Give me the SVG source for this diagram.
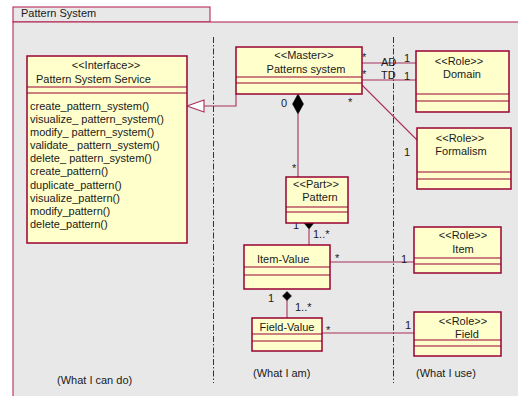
<svg xmlns="http://www.w3.org/2000/svg" width="518" height="396" viewBox="0 0 518 396">
<style>
text{font-family:"Liberation Sans",Arial,sans-serif;font-size:11px;fill:#1a1a1a}
.c{text-anchor:middle}
.box{fill:#ffffcc;stroke:#990033;stroke-width:1.5}
.sep{stroke:#990033;stroke-width:1.2}
.ln{fill:none;stroke:#a8305c;stroke-width:1.1}
.div{stroke:#333;stroke-width:1;stroke-dasharray:6 2 1.5 2}
.dia{fill:#000;stroke:#000;stroke-width:0.5}
</style>
<rect x="0" y="0" width="518" height="396" fill="#fff"/>
<g id="package">
<rect x="13" y="7" width="197" height="15" fill="#e8e8e8" stroke="#b01848" stroke-width="1"/>
<rect x="13" y="22" width="510" height="380" fill="#e8e8e8" stroke="#b01848" stroke-width="1"/>
<text x="21" y="17">Pattern System</text>
</g>
<g id="dividers">
<line class="div" x1="213.5" y1="37" x2="213.5" y2="383"/>
<line class="div" x1="393.5" y1="37" x2="393.5" y2="383"/>
</g>
<g id="connectors">
<polyline class="ln" points="204,106 236,106 236,94"/>
<polygon points="187,106 204,100 204,112" fill="#fff" stroke="#a8305c" stroke-width="1.1"/>
<line class="ln" x1="362" y1="63" x2="416" y2="63"/>
<line class="ln" x1="362" y1="80" x2="416" y2="80"/>
<line class="ln" x1="362" y1="85" x2="417" y2="140"/>
<line class="ln" x1="298" y1="114" x2="298" y2="177"/>
<polygon class="dia" points="298,94 303.5,104 298,114 292.5,104"/>
<line class="ln" x1="309" y1="229" x2="309" y2="245"/>
<polygon class="dia" points="309,217 314,223 309,229 304,223"/>
<line class="ln" x1="330" y1="262" x2="414" y2="262"/>
<line class="ln" x1="287" y1="300" x2="287" y2="318"/>
<polygon class="dia" points="287,291.5 291.5,296 287,300.5 282.5,296"/>
<line class="ln" x1="322" y1="333" x2="414" y2="333"/>
<text x="362" y="61">*</text>
<text x="381" y="66">AD</text>
<text x="404" y="62">1</text>
<text x="362" y="78">*</text>
<text x="381" y="79">TD</text>
<text x="404" y="80">1</text>
<text x="348" y="106">*</text>
<text x="404" y="156">1</text>
<text class="c" x="284" y="107">0</text>
<text x="292" y="172">*</text>
<text x="293" y="229">1</text>
<text x="313" y="238">1..*</text>
<text x="335" y="262">*</text>
<text x="401" y="263">1</text>
<text x="268" y="302">1</text>
<text x="295" y="311">1..*</text>
<text x="326" y="334">*</text>
<text x="405" y="329">1</text>
</g>
<g id="interface">
<rect class="box" x="27" y="56" width="160" height="187"/>
<line class="sep" x1="27" y1="87" x2="187" y2="87"/>
<line class="sep" x1="27" y1="93" x2="187" y2="93"/>
<text class="c" x="106" y="69">&lt;&lt;Interface&gt;&gt;</text>
<text x="36" y="83">Pattern System Service</text>
<text x="30" y="110">create_pattern_system()</text>
<text x="30" y="123">visualize_ pattern_system()</text>
<text x="30" y="136">modify_ pattern_system()</text>
<text x="30" y="149">validate_ pattern_system()</text>
<text x="30" y="162">delete_ pattern_system()</text>
<text x="30" y="175">create_pattern()</text>
<text x="30" y="189">duplicate_pattern()</text>
<text x="30" y="202">visualize_pattern()</text>
<text x="30" y="215">modify_pattern()</text>
<text x="30" y="228">delete_pattern()</text>
</g>
<g id="master">
<rect class="box" x="236" y="47" width="126" height="47"/>
<line class="sep" x1="236" y1="77" x2="362" y2="77"/>
<line class="sep" x1="236" y1="83" x2="362" y2="83"/>
<text class="c" x="304" y="59">&lt;&lt;Master&gt;&gt;</text>
<text class="c" x="306" y="73">Patterns system</text>
</g>
<g id="domain">
<rect class="box" x="416" y="51" width="93" height="61"/>
<line class="sep" x1="416" y1="94" x2="509" y2="94"/>
<line class="sep" x1="416" y1="101" x2="509" y2="101"/>
<text class="c" x="459" y="65">&lt;&lt;Role&gt;&gt;</text>
<text class="c" x="462" y="78">Domain</text>
</g>
<g id="formalism">
<rect class="box" x="417" y="128" width="94" height="61"/>
<line class="sep" x1="417" y1="172" x2="511" y2="172"/>
<line class="sep" x1="417" y1="179" x2="511" y2="179"/>
<text class="c" x="460" y="142">&lt;&lt;Role&gt;&gt;</text>
<text class="c" x="461" y="155">Formalism</text>
</g>
<g id="pattern">
<rect class="box" x="286" y="177" width="62" height="46"/>
<line class="sep" x1="286" y1="207" x2="348" y2="207"/>
<line class="sep" x1="286" y1="212" x2="348" y2="212"/>
<text class="c" x="316" y="188">&lt;&lt;Part&gt;&gt;</text>
<text class="c" x="320" y="201">Pattern</text>
</g>
<g id="item-value">
<rect class="box" x="244" y="245" width="86" height="44"/>
<line class="sep" x1="244" y1="267" x2="330" y2="267"/>
<line class="sep" x1="244" y1="275" x2="330" y2="275"/>
<text x="257" y="263">Item-Value</text>
</g>
<g id="item">
<rect class="box" x="414" y="227" width="87" height="46"/>
<line class="sep" x1="414" y1="258" x2="501" y2="258"/>
<line class="sep" x1="414" y1="264" x2="501" y2="264"/>
<text class="c" x="463" y="239">&lt;&lt;Role&gt;&gt;</text>
<text class="c" x="463" y="253">Item</text>
</g>
<g id="field-value">
<rect class="box" x="252" y="318" width="70" height="33"/>
<line class="sep" x1="252" y1="334" x2="322" y2="334"/>
<line class="sep" x1="252" y1="341" x2="322" y2="341"/>
<text class="c" x="287" y="331">Field-Value</text>
</g>
<g id="field">
<rect class="box" x="414" y="312" width="87" height="44"/>
<line class="sep" x1="414" y1="340" x2="501" y2="340"/>
<line class="sep" x1="414" y1="346" x2="501" y2="346"/>
<text class="c" x="463" y="325">&lt;&lt;Role&gt;&gt;</text>
<text class="c" x="467" y="338">Field</text>
</g>
<g id="labels">
<text x="57" y="384">(What I can do)</text>
<text x="253" y="377">(What I am)</text>
<text x="416" y="377">(What I use)</text>
</g>
</svg>
